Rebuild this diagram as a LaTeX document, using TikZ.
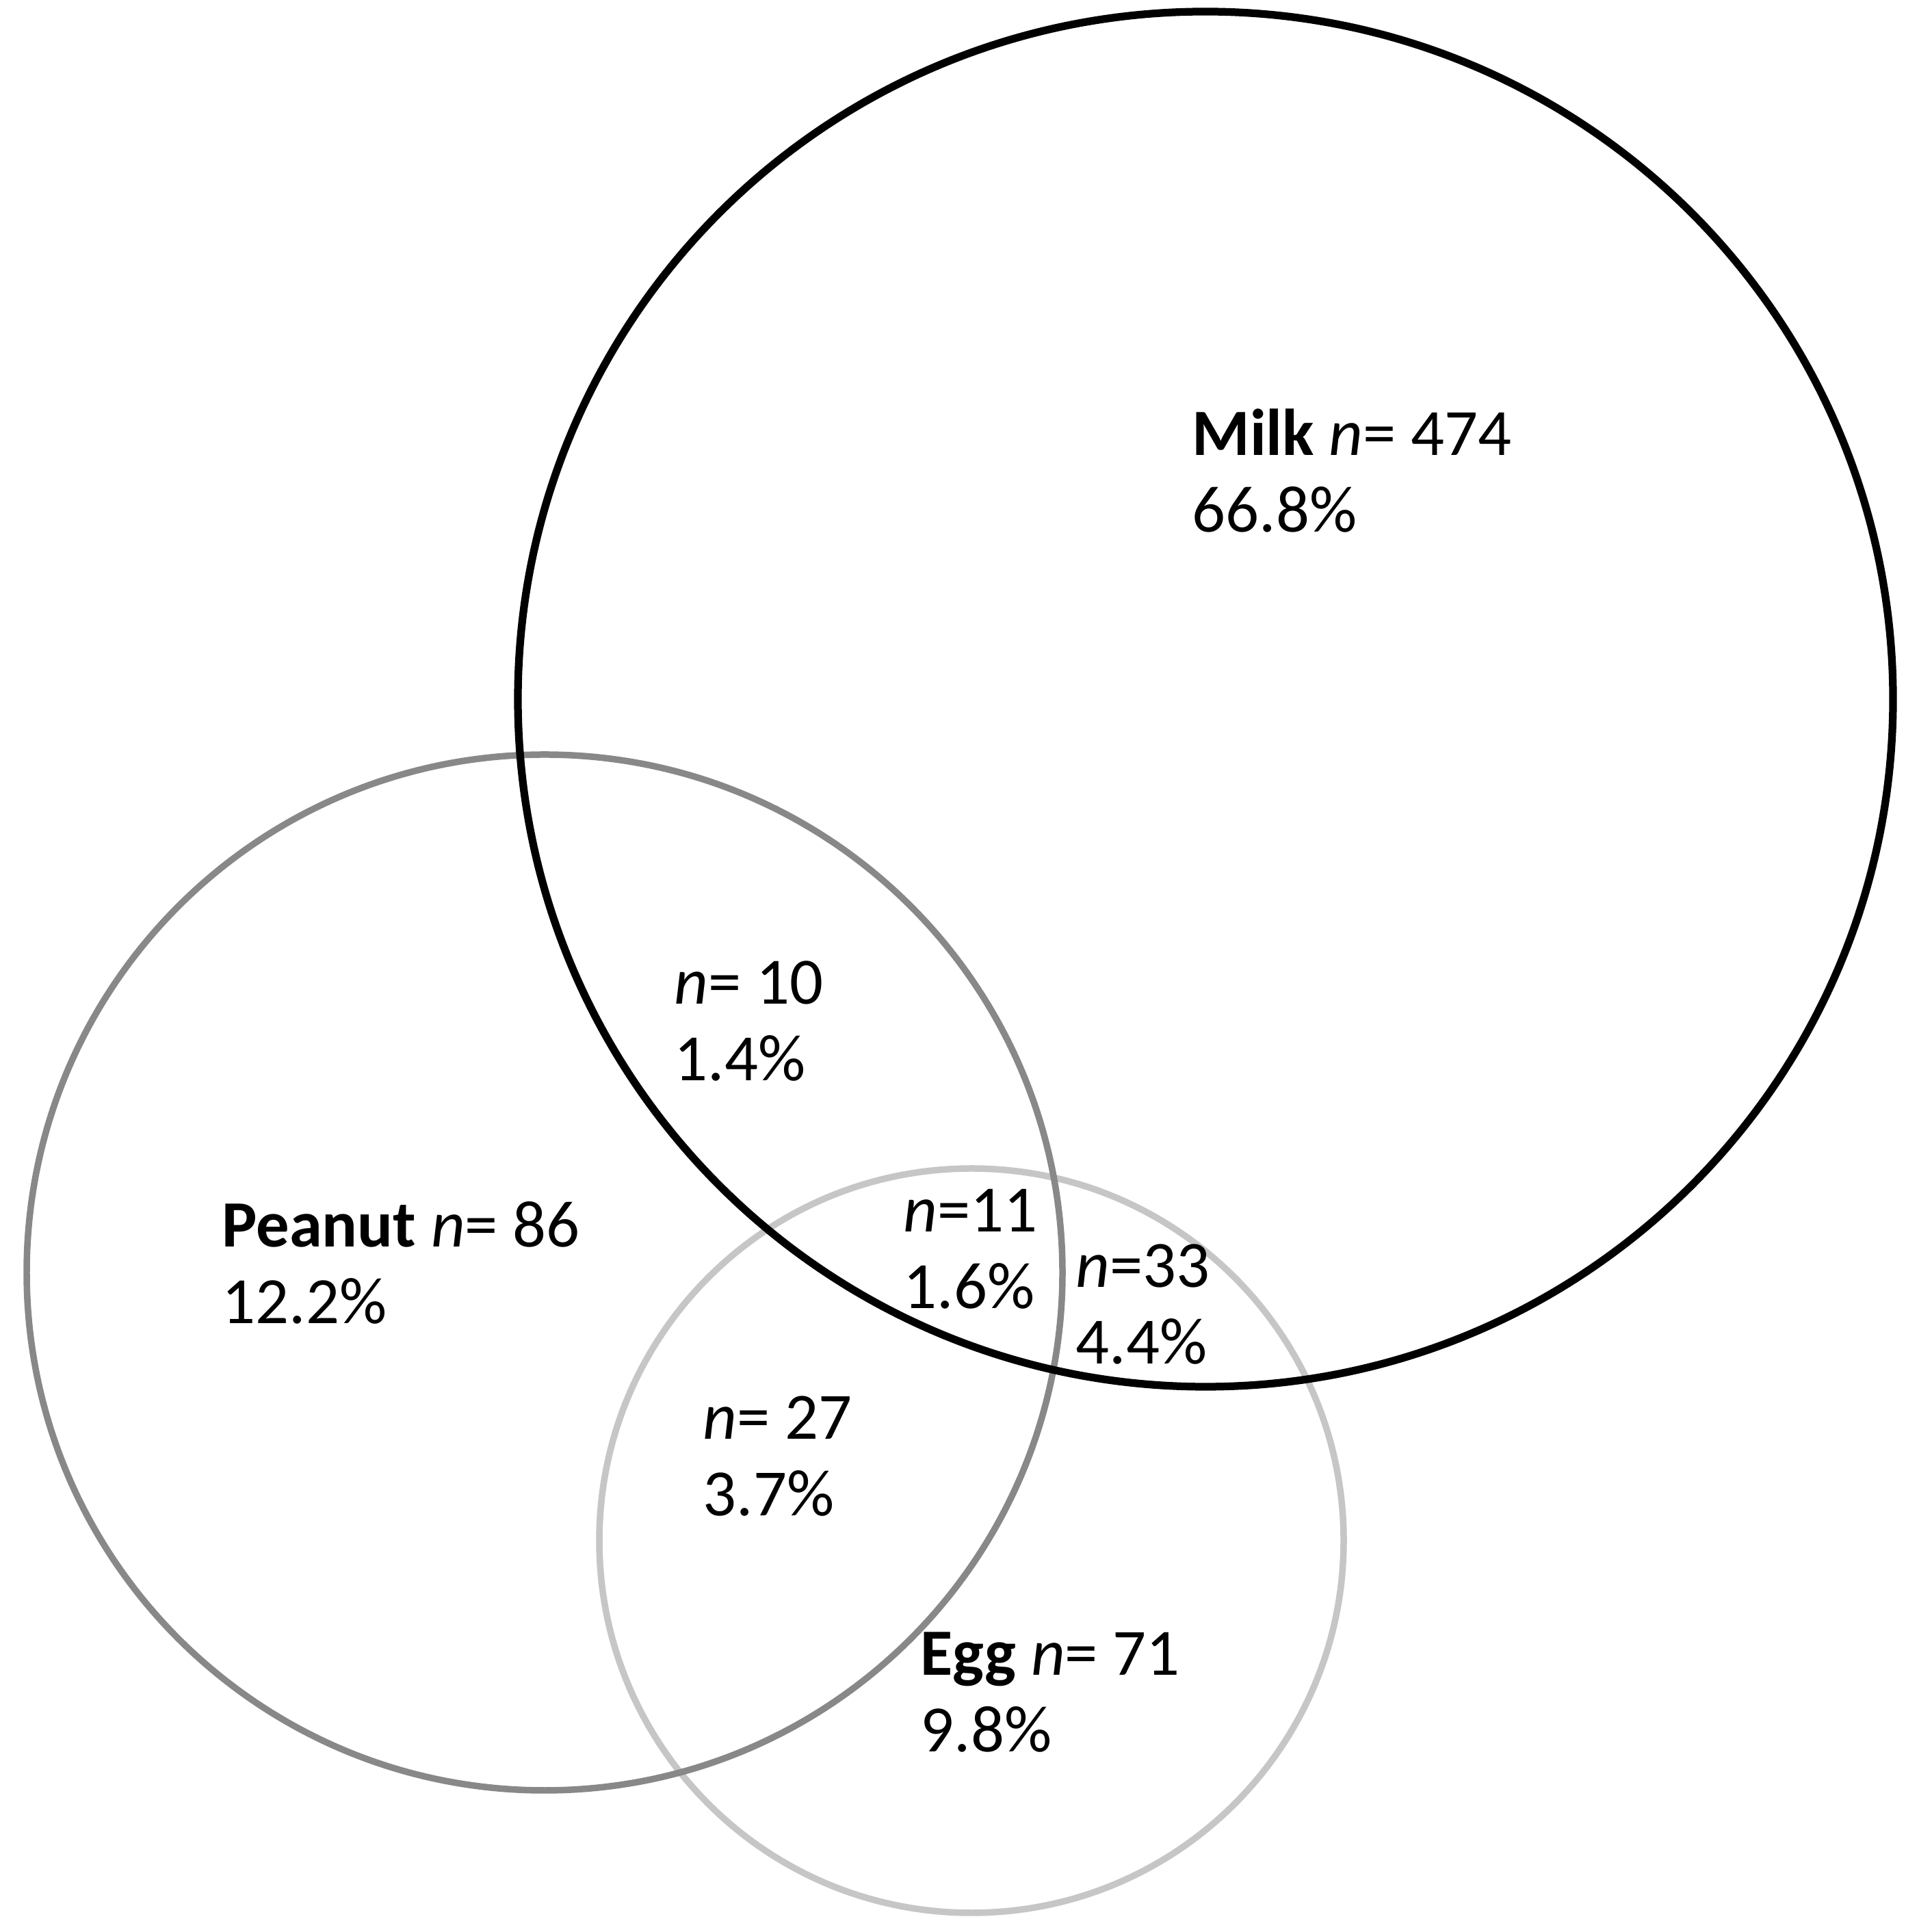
\documentclass[tikz,border=0pt]{standalone}
\usepackage{fontspec}
\setmainfont{Carlito}
\begin{document}
\begin{tikzpicture}[
  lbl/.style={anchor=base west, inner sep=0pt, font=\fontsize{27.5pt}{33pt}\selectfont},
  milkc/.style={draw=black, line width=3.2pt},
  peanutc/.style={draw=peanutgray, line width=2.7pt},
  eggc/.style={draw=egggray, line width=2.7pt}
]
\definecolor{peanutgray}{HTML}{888888}
\definecolor{egggray}{HTML}{C6C6C6}
\useasboundingbox (0,0) rectangle (28.24,28.24);
\fill[white] (0,0) rectangle (28.24,28.24);
% circles
\coordinate (cegg) at (14.20,5.72);
\coordinate (cpeanut) at (7.96,9.64);
\coordinate (cmilk) at (17.62,18.02);
\draw[eggc] (cegg) circle (5.44);
\draw[peanutc] (cpeanut) circle (7.57);
\draw[milkc] (cmilk) circle (10.05);
% labels
\node[lbl] (milk1) at (17.42,21.58) {\textbf{Milk} \textit{n}= 474};
\node[lbl] (milk2) at ([yshift=-1.12cm]milk1.base west) {66.8\%};
\node[lbl] (mp1) at (9.85,13.56) {\textit{n}= 10};
\node[lbl] (mp2) at ([yshift=-1.12cm]mp1.base west) {1.4\%};
\node[lbl] (pea1) at (3.24,10.01) {\textbf{Peanut} \textit{n}= 86};
\node[lbl] (pea2) at ([yshift=-1.12cm]pea1.base west) {12.2\%};
\node[lbl] (all1) at (13.20,10.23) {\textit{n}=11};
\node[lbl] (all2) at ([yshift=-1.12cm]all1.base west) {1.6\%};
\node[lbl] (me1) at (15.72,9.42) {\textit{n}=33};
\node[lbl] (me2) at ([yshift=-1.12cm]me1.base west) {4.4\%};
\node[lbl] (pe1) at (10.27,7.20) {\textit{n}= 27};
\node[lbl] (pe2) at ([yshift=-1.12cm]pe1.base west) {3.7\%};
\node[lbl] (egg1) at (13.45,3.75) {\textbf{Egg} \textit{n}= 71};
\node[lbl] (egg2) at ([yshift=-1.12cm]egg1.base west) {9.8\%};
\end{tikzpicture}
\end{document}
